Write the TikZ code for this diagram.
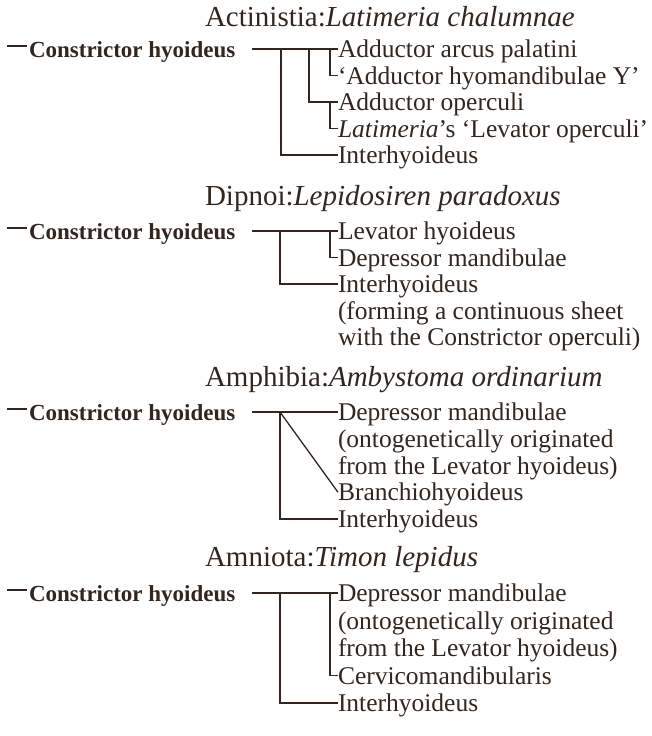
\documentclass[tikz,border=0pt]{standalone}
\usepackage{fontspec}
\setmainfont{Liberation Serif}
\usetikzlibrary{calc}
\definecolor{ink}{RGB}{50,38,30}
\begin{document}
\begin{tikzpicture}[x=1pt,y=-1pt,
  every node/.style={inner sep=0pt, outer sep=0pt, text=ink},
  grouptitle/.style={anchor=base west, font=\fontsize{29}{31}\selectfont},
  origin/.style={anchor=west, text height=15pt, text depth=0pt,
    font=\fontsize{23}{25}\selectfont\bfseries},
  muscle/.style={anchor=west, text height=17pt, text depth=0pt,
    font=\fontsize{25.5}{27}\selectfont},
  link/.style={draw=ink, line width=1.3pt}]
\useasboundingbox (0,0) rectangle (652,736);

% ---- Actinistia ----
\node[grouptitle] (t1) at (205,27) {Actinistia:\textit{Latimeria chalumnae}};
\node[origin] (o1) at (29,50) {Constrictor hyoideus};
\node[muscle] (a1) at (338,49) {Adductor arcus palatini};
\node[muscle] (a2) at (338,75.5) {‘Adductor hyomandibulae Y’};
\node[muscle] (a3) at (338,102) {Adductor operculi};
\node[muscle] (a4) at (338,128.5) {\textit{Latimeria}’s ‘Levator operculi’};
\node[muscle] (a5) at (338,155) {Interhyoideus};
\coordinate (s1) at (252,49);
\coordinate (k1) at (281,49);
\coordinate (m1) at (309,49);
\coordinate (b1) at (330,49);
\draw[link] (o1.west) ++(-22,-4) -- ++(20,0);
\draw[link] (s1) -- (a1.west);
\draw[link] (b1) |- (a2.west);
\draw[link] (m1) |- (a3.west);
\draw[link] (a3.west -| b1) |- (a4.west);
\draw[link] (k1) |- (a5.west);

% ---- Dipnoi ----
\node[grouptitle] (t2) at (205,205) {Dipnoi:\textit{Lepidosiren paradoxus}};
\node[origin] (o2) at (29,232) {Constrictor hyoideus};
\node[muscle] (d1) at (338,231) {Levator hyoideus};
\node[muscle] (d2) at (338,257.5) {Depressor mandibulae};
\node[muscle] (d3) at (338,284) {Interhyoideus};
\node[muscle] (d3b) at (338,310.5) {(forming a continuous sheet};
\node[muscle] (d3c) at (338,337) {with the Constrictor operculi)};
\coordinate (s2) at (252,231);
\coordinate (k2) at (280,231);
\coordinate (b2) at (330,231);
\draw[link] (o2.west) ++(-22,-4) -- ++(20,0);
\draw[link] (s2) -- (d1.west);
\draw[link] (b2) |- (d2.west);
\draw[link] (k2) |- (d3.west);

% ---- Amphibia ----
\node[grouptitle] (t3) at (205,386) {Amphibia:\textit{Ambystoma ordinarium}};
\node[origin] (o3) at (29,413) {Constrictor hyoideus};
\node[muscle] (p1) at (338,412) {Depressor mandibulae};
\node[muscle] (p1b) at (338,438.75) {(ontogenetically originated};
\node[muscle] (p1c) at (338,465.5) {from the Levator hyoideus)};
\node[muscle] (p2) at (338,492.25) {Branchiohyoideus};
\node[muscle] (p3) at (338,519) {Interhyoideus};
\coordinate (s3) at (252,412);
\coordinate (k3) at (280,412);
\draw[link] (o3.west) ++(-22,-4) -- ++(20,0);
\draw[link] (s3) -- (p1.west);
\draw[link] (k3) -- (p2.west);
\draw[link] (k3) |- (p3.west);

% ---- Amniota ----
\node[grouptitle] (t4) at (205,566) {Amniota:\textit{Timon lepidus}};
\node[origin] (o4) at (29,594) {Constrictor hyoideus};
\node[muscle] (n1) at (338,593) {Depressor mandibulae};
\node[muscle] (n1b) at (338,620.5) {(ontogenetically originated};
\node[muscle] (n1c) at (338,648) {from the Levator hyoideus)};
\node[muscle] (n2) at (338,675.5) {Cervicomandibularis};
\node[muscle] (n3) at (338,703) {Interhyoideus};
\coordinate (s4) at (252,593);
\coordinate (k4) at (280,593);
\coordinate (b4) at (330,593);
\draw[link] (o4.west) ++(-22,-4) -- ++(20,0);
\draw[link] (s4) -- (n1.west);
\draw[link] (b4) |- (n2.west);
\draw[link] (k4) |- (n3.west);
\end{tikzpicture}
\end{document}
